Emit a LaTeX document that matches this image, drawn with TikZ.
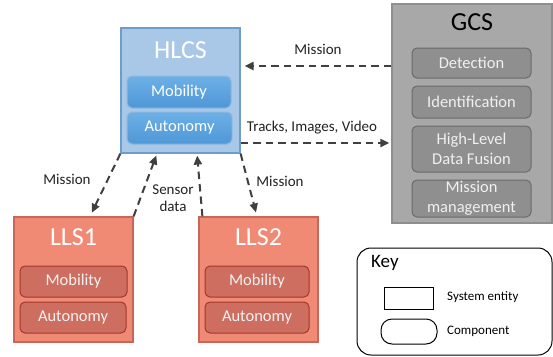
\documentclass[tikz,border=0pt]{standalone}
\usepackage{fontspec}
\setmainfont{Carlito}
\usetikzlibrary{arrows.meta,calc}
\definecolor{hlfill}{HTML}{A9C7E7}
\definecolor{hldraw}{HTML}{6E9DCC}
\definecolor{hlctop}{HTML}{6DB0E6}
\definecolor{hlcbot}{HTML}{4F97D7}
\definecolor{hlcdraw}{HTML}{8DB8E0}
\definecolor{llfill}{HTML}{F08A74}
\definecolor{lldraw}{HTML}{C8665A}
\definecolor{llcfill}{HTML}{CD6E60}
\definecolor{llcdraw}{HTML}{A3372B}
\definecolor{gcfill}{HTML}{A8A8A8}
\definecolor{gcdraw}{HTML}{8E8E8E}
\definecolor{gccfill}{HTML}{8F8F8F}
\definecolor{gccdraw}{HTML}{6A6A6A}
\definecolor{arr}{HTML}{404040}
\definecolor{lbl}{HTML}{222222}
\tikzset{
  sysbox/.style={rectangle, line width=1.2pt, inner sep=0pt},
  hlbox/.style={sysbox, fill=hlfill, draw=hldraw},
  llbox/.style={sysbox, fill=llfill, draw=lldraw},
  gcbox/.style={sysbox, fill=gcfill, draw=gcdraw},
  comp/.style={rectangle, rounded corners=5pt, line width=1pt, inner sep=0pt, align=center, font=\fontsize{16.5}{20}\selectfont},
  hlcomp/.style={comp, top color=hlctop, bottom color=hlcbot, draw=hlcdraw, text=white},
  llcomp/.style={comp, fill=llcfill, draw=llcdraw, text=white!95!black},
  gccomp/.style={comp, fill=gccfill, draw=gccdraw, text=white!94!black},
  titletext/.style={font=\fontsize{26}{28}\selectfont, inner sep=0pt},
  flow/.style={draw=arr, line width=2pt, dash pattern=on 7.5pt off 5pt, -{Triangle[length=9pt,width=8pt]}},
  lab/.style={font=\fontsize{15}{17}\selectfont, text=lbl, align=center, inner sep=0pt}
}
\begin{document}
\begin{tikzpicture}[x=1pt,y=-1pt]
\useasboundingbox (0,0) rectangle (553,356);
% HLCS
\node[hlbox, minimum width=119pt, minimum height=125pt] (hlcs) at (180.5,90.5) {};
\node[titletext, text=white] (hlcst) at (180.5,50) {HLCS};
\node[hlcomp, minimum width=104pt, minimum height=32pt] (hlcsm) at (179,92) {Mobility};
\node[hlcomp, minimum width=105pt, minimum height=32pt] (hlcsa) at (179.5,128) {Autonomy};
% GCS
\node[gcbox, minimum width=160pt, minimum height=219pt] (gcs) at (472,113.5) {};
\node[titletext, text=black] (gcst) at (472,22) {GCS};
\node[gccomp, minimum width=119pt, minimum height=30pt] (gcsd) at (471.5,63) {Detection};
\node[gccomp, minimum width=119pt, minimum height=32pt] (gcsi) at (471.5,102) {Identification};
\node[gccomp, minimum width=119pt, minimum height=46pt] (gcsh) at (471.5,149) {High-Level\\Data Fusion};
\node[gccomp, minimum width=119pt, minimum height=37pt] (gcsmm) at (471.5,198.5) {Mission\\management};
% LLS1
\node[llbox, minimum width=119pt, minimum height=125pt] (lls1) at (73.5,279.5) {};
\node[titletext, text=white] (lls1t) at (73.5,237) {LLS1};
\node[llcomp, minimum width=107pt, minimum height=31pt] (lls1m) at (73.5,281.5) {Mobility};
\node[llcomp, minimum width=106pt, minimum height=31pt] (lls1a) at (73,317.5) {Autonomy};
% LLS2
\node[llbox, minimum width=119pt, minimum height=125pt] (lls2) at (258.5,279.5) {};
\node[titletext, text=white] (lls2t) at (258.5,237) {LLS2};
\node[llcomp, minimum width=104pt, minimum height=31pt] (lls2m) at (257,281.5) {Mobility};
\node[llcomp, minimum width=104pt, minimum height=31pt] (lls2a) at (257,317.5) {Autonomy};
% connectors
\draw[flow, shorten >=4pt] (gcs.west |- 0,66) -- (hlcs.east |- 0,66);
\draw[flow, shorten >=2pt] (hlcs.east |- 0,143) -- (gcs.west |- 0,143);
\draw[flow, shorten >=4pt] (hlcs.south west) -- ([xshift=16.5pt]lls1.north);
\draw[flow, shorten >=2pt] (lls1.north east) -- ([xshift=-23.5pt]hlcs.south);
\draw[flow, shorten >=2pt] ([xshift=4pt]lls2.north west) -- ([xshift=16.5pt]hlcs.south);
\draw[flow, shorten >=4pt] (hlcs.south east) -- ([xshift=-1.5pt]lls2.north);
% labels
\node[lab] (l1) at (318,49) {Mission};
\node[lab] (l2) at (312,128) {Tracks, Images, Video};
\node[lab] (l3) at (67,179) {Mission};
\node[lab] (l4) at (173,198) {Sensor\\data};
\node[lab] (l5) at (280,181) {Mission};
% key
\draw[line width=1pt, rounded corners=14pt] (357,248) rectangle (552,355);
\node[font=\fontsize{19}{21}\selectfont, anchor=west, inner sep=0pt] (keyt) at (371,263) {Key};
\node[draw=black, line width=1pt, minimum width=49pt, minimum height=22pt, inner sep=0pt] (keyr) at (408.5,298) {};
\node[draw=black, line width=1pt, rounded corners=11pt, minimum width=56pt, minimum height=25pt, inner sep=0pt] (keyc) at (409,331.5) {};
\node[font=\fontsize{13}{15}\selectfont, anchor=west, inner sep=0pt] (keyrl) at (447,297) {System entity};
\node[font=\fontsize{13}{15}\selectfont, anchor=west, inner sep=0pt] (keycl) at (447,331) {Component};
\end{tikzpicture}
\end{document}
